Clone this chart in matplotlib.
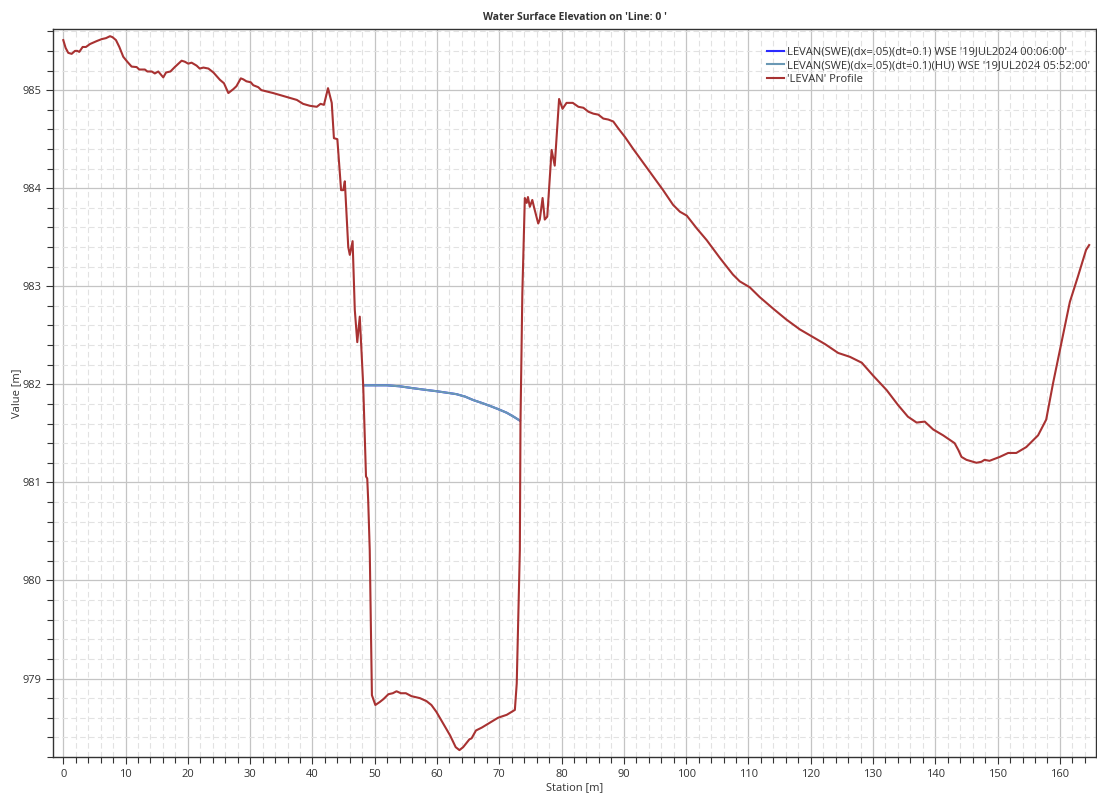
import matplotlib.pyplot as plt
from matplotlib.ticker import MultipleLocator

plt.rcParams.update({
    "font.family": ["Open Sans", "DejaVu Sans"],
    "font.size": 8,
    "text.color": "#333333",
    "axes.labelcolor": "#333333",
    "xtick.color": "#333333",
    "ytick.color": "#333333",
})

# terrain profile along 'Line: 0 '
station = [
    0.0, 0.38, 0.8, 1.35, 1.88, 2.25, 2.57, 3.11, 3.64, 4.29, 5.36, 6.16, 6.85, 7.5, 7.9,
    8.46, 9.0, 9.63, 10.27, 10.97, 11.78, 12.2, 13.1, 13.5, 14.2, 14.7, 15.25, 16.05, 16.5,
    17.2, 17.9, 19.0, 19.5, 20.06, 20.6, 21.4, 21.9, 22.5, 23.3, 24.1, 25.15, 25.8, 26.5,
    27.3, 27.8, 28.5, 28.9, 29.4, 30.1, 30.5, 31.3, 31.8, 33.7, 35.9, 37.5, 38.5, 39.6,
    40.7, 41.3, 41.85, 42.5, 43.1, 43.45, 44.0, 44.6, 44.95, 45.2, 45.75, 46.0, 46.45,
    46.8, 47.2, 47.6, 48.15, 48.6, 48.8, 48.95, 49.2, 49.55, 50.1, 50.8, 51.4, 52.2, 52.9,
    53.5, 54.2, 55.0, 55.9, 57.25, 58.3, 59.1, 59.9, 61.0, 62.1, 63.0, 63.6, 64.2, 65.2,
    65.55, 66.25, 67.2, 68.5, 69.8, 71.2, 72.5, 72.8, 73.05, 73.3, 73.4, 73.7, 74.1, 74.4,
    74.6, 74.9, 75.3, 75.6, 76.25, 76.5, 76.95, 77.3, 77.7, 78.4, 78.9, 79.6, 80.15, 80.8,
    81.8, 82.7, 83.5, 84.3, 85.1, 85.9, 86.7, 87.5, 88.3, 89.1, 90.2, 91.5, 93.1, 94.7,
    96.3, 97.9, 99.0, 100.1, 101.7, 103.3, 105.4, 107.5, 108.6, 110.2, 111.8, 114.0,
    116.1, 118.25, 120.4, 122.3, 124.4, 126.3, 128.2, 130.0, 132.2, 134.0, 135.6, 137.0,
    138.3, 139.65, 141.25, 143.1, 143.7, 144.2, 145.0, 146.6, 147.4, 147.9, 148.7, 150.35,
    151.7, 153.0, 154.6, 156.5, 157.8, 158.9, 160.0, 161.6, 162.9, 164.2, 164.7,
]
profile = [
    985.51, 985.43, 985.38, 985.37, 985.40, 985.40, 985.39, 985.44, 985.44, 985.47, 985.50,
    985.52, 985.53, 985.55, 985.54, 985.51, 985.44, 985.34, 985.29, 985.24, 985.235, 985.21,
    985.21, 985.19, 985.19, 985.17, 985.19, 985.13, 985.18, 985.19, 985.235, 985.30, 985.29,
    985.27, 985.28, 985.25, 985.22, 985.23, 985.22, 985.18, 985.105, 985.07, 984.97, 985.01,
    985.04, 985.12, 985.11, 985.09, 985.08, 985.05, 985.03, 985.00, 984.97, 984.93, 984.90,
    984.86, 984.84, 984.83, 984.86, 984.85, 985.02, 984.87, 984.51, 984.50, 983.98, 983.98,
    984.07, 983.40, 983.32, 983.46, 982.76, 982.43, 982.69, 981.99, 981.06, 981.04, 980.82,
    980.31, 978.83, 978.73, 978.76, 978.79, 978.84, 978.85, 978.87, 978.85, 978.85, 978.82,
    978.80, 978.77, 978.73, 978.66, 978.54, 978.42, 978.30, 978.27, 978.30, 978.38, 978.39,
    978.47, 978.50, 978.55, 978.60, 978.63, 978.68, 978.95, 979.63, 980.31, 981.60, 982.93,
    983.90, 983.85, 983.91, 983.81, 983.88, 983.80, 983.64, 983.68, 983.90, 983.68, 983.71,
    984.39, 984.23, 984.91, 984.81, 984.87, 984.87, 984.83, 984.82, 984.78, 984.76, 984.75,
    984.71, 984.70, 984.68, 984.61, 984.52, 984.40, 984.26, 984.12, 983.98, 983.83, 983.76,
    983.72, 983.59, 983.47, 983.29, 983.12, 983.05, 982.99, 982.89, 982.77, 982.66, 982.56,
    982.48, 982.41, 982.32, 982.28, 982.22, 982.09, 981.94, 981.79, 981.67, 981.61, 981.62,
    981.54, 981.48, 981.40, 981.33, 981.26, 981.23, 981.20, 981.21, 981.23, 981.22, 981.26,
    981.30, 981.30, 981.36, 981.48, 981.64, 982.01, 982.35, 982.84, 983.10, 983.37, 983.42,
]

# water surface elevations in the channel
wse_station = [48.15, 50.0, 51.9, 54.0, 56.2, 58.0, 59.9, 61.5, 63.1, 64.5, 65.8, 67.2, 68.5, 69.9, 71.2, 72.3, 73.3]
wse_swe = [981.99, 981.99, 981.99, 981.98, 981.96, 981.945, 981.93, 981.915, 981.90, 981.875, 981.84, 981.81, 981.78, 981.745, 981.71, 981.67, 981.63]
wse_hu = [981.99, 981.99, 981.99, 981.98, 981.96, 981.945, 981.93, 981.915, 981.90, 981.875, 981.84, 981.81, 981.78, 981.745, 981.71, 981.67, 981.63]

labels = [
    "LEVAN(SWE)(dx=.05)(dt=0.1) WSE '19JUL2024 00:06:00'",
    "LEVAN(SWE)(dx=.05)(dt=0.1)(HU) WSE '19JUL2024 05:52:00'",
    "'LEVAN' Profile",
]

fig = plt.figure(figsize=(10.97, 7.99), dpi=100)
ax = fig.add_axes([0.0486, 0.0526, 0.9505, 0.9107])

ax.plot(wse_station, wse_swe, color="#2a2aff", lw=1.5, label=labels[0], zorder=3)
ax.plot(wse_station, wse_hu, color="#6a98b4", lw=1.5, label=labels[1], zorder=4)
ax.plot(station, profile, color="#a83232", lw=1.5, label=labels[2], zorder=5)

ax.set_xlim(-1.6, 165.8)
ax.set_ylim(978.2, 985.62)
ax.xaxis.set_major_locator(MultipleLocator(10))
ax.xaxis.set_minor_locator(MultipleLocator(2))
ax.yaxis.set_major_locator(MultipleLocator(1))
ax.yaxis.set_minor_locator(MultipleLocator(0.2))

ax.grid(which="major", color="#c4c4c4", lw=0.9, ls="-")
ax.grid(which="minor", color="#e2e2e2", lw=0.8, ls=(0, (5, 3)))
ax.set_axisbelow(True)

ax.tick_params(which="major", direction="out", length=5, width=0.8)
ax.tick_params(which="minor", direction="out", length=4, width=0.8)
for s in ax.spines.values():
    s.set_color("#333333")
    s.set_linewidth(1.0)

ax.set_title("Water Surface Elevation on 'Line: 0 '", fontsize=7.5, fontweight="bold", pad=7)
ax.set_xlabel("Station [m]", labelpad=2)
ax.set_ylabel("Value [m]", labelpad=0)

leg = ax.legend(loc="upper right", bbox_to_anchor=(1.004, 0.99), frameon=False,
                handlelength=1.5, handletextpad=0.3, labelspacing=0.25, fontsize=8)

fig.savefig("out.png", dpi=100, facecolor="w")
